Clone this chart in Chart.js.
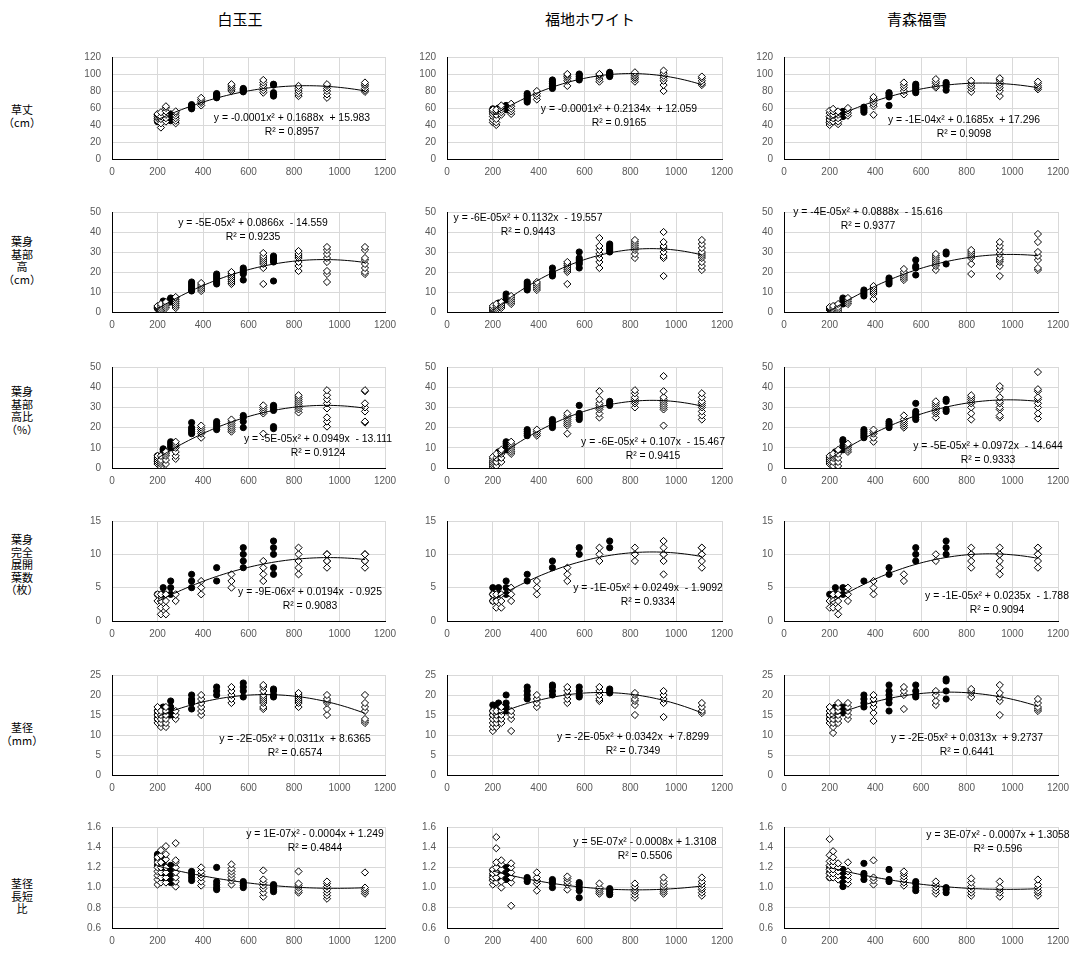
<!DOCTYPE html>
<html>
<head>
<meta charset="utf-8">
<script src="https://cdn.jsdelivr.net/npm/chart.js@4.4.1/dist/chart.umd.min.js"></script>
<style>
  body { margin: 0; background: #fff; width: 1075px; height: 953px; position: relative; overflow: hidden; font-family: "Liberation Sans", Arial, sans-serif; }
  .panel { position: absolute; }
  .title { position: absolute; font-family: "Noto Sans CJK JP"; font-size: 15px; transform: translate(-50%, -50%); white-space: nowrap; color: #000; }
  .ylab { position: absolute; font-family: "Noto Sans CJK JP"; font-size: 11px; line-height: 12.5px; text-align: center; width: 44px; transform: translate(-50%, -50%); color: #000; }
  .eq { position: absolute; font-size: 10.4px; line-height: 13.5px; text-align: center; white-space: nowrap; transform: translate(-50%, 0); color: #000; }
</style>
</head>
<body>
<script>
const cultivars = ['白玉王', '福地ホワイト', '青森福雪'];
const traitLabels = [
  ['草丈', '（cm）'],
  ['葉身', '基部', '高', '（cm）'],
  ['葉身', '基部', '高比', '（%）'],
  ['葉身', '完全', '展開', '葉数', '（枚）'],
  ['茎径', '（mm）'],
  ['茎径', '長短', '比']
];
const yMin = [0, 0, 0, 0, 0, 0.6];
const yMax = [120, 50, 50, 15, 25, 1.6];
const yStep = [20, 10, 10, 5, 5, 0.2];

// x positions of the sampling groups
const xFilled = [200, 225, 258, 350, 460, 577, 710];
const xOpen = [200, 215, 237, 280, 392, 525, 665, 820, 945, 1112];

// 草丈
const heightFilled = [
  [[44,46,48],[46,48,50,52],[45,47,49,51,53],[59,60,61,62,63,64],[72,73,75,76,77],[79,80,81,82,83],[74,76,78,87,88]],
  [[55,57,59],[54,56,58,60],[58,60,62,63],[67,69,71,73,75,77],[83,85,87,89,91,93],[93,95,97,99,100],[97,98,99,100,101,102]],
  [[42,45,48],[45,48,52,55],[50,52,54,56],[55,57,59,61],[63,73,75,77,78],[78,80,82,84,86,88],[81,85,88,90]]
];
const heightOpen = [
  [[45,48,50,52,53],[37,42,47,50,55],[44,48,52,56,60,62],[42,45,48,51,54,56],[63,66,68,70,72],[80,82,84,86,88],[78,81,84,87,90,93],[74,77,80,83,86],[72,76,80,83,86,88],[79,81,83,86,88,90]],
  [[43,46,50,53,56,58],[40,43,47,52,56,58],[52,55,58,61,63],[53,56,59,62,65],[70,74,77,80],[86,92,95,97,99,100],[91,94,97,99,100],[91,94,96,98,100,102],[80,87,92,95,98,101,104],[87,89,92,95,97]],
  [[40,43,46,50,54,57],[44,48,52,56,59],[41,44,48,52,56],[51,54,57,60],[52,62,65,68,71,73],[76,80,84,87,90],[84,86,89,91,94],[79,83,86,89,92],[74,80,84,87,90,93,95],[82,84,86,89,91]]
];

// 葉身基部高
const baseFilled = [
  [[1.8,2.2],[3,4,5,5.5],[5,5.5,6,6.5,7],[10.5,11,12,13,14,15],[14,15,16,17,18,19],[16,19,20,21,22],[15.5,25,26,27,28]],
  [[1,2],[3,4,4.5],[6,7,8,9],[11,12,13,14,15],[18,19,20,22],[22,24,25,26,27,30],[30,31,32,33,34]],
  [[1.5,2],[2,3],[4,5,6,7],[8,9,10,11],[14,15,16,17],[18.5,22,23,26],[24,29,30]]
];
const baseOpen = [
  [[1.5,2,2.5,3],[0.5,1,2,3,4],[2,3,4,5],[2,3,4,5,6,7,7.5],[10.5,11.5,12.5,13.5,14.5],[14,15,16,17,18,19,20],[14,22,24,25,26,27,28,29.5],[20.5,23,25,27,28,29,30.5],[15,19,20.5,25,27,29,31,32.5],[19,20,22,24,26,27,31,32.5]],
  [[0.5,1,1.5,2,3],[1,2,3,4],[2,3,4,5],[4,5,6,7,8],[11,12,13,14,15],[14,20,21,22,23,24,25],[22,25,27,29,31,33,37],[27,29,31,32,33,34,35,36],[18,27,28,30,32,33,35,40],[21,23,25,27,28,29,30,32,34,36]],
  [[1,1.5,2,2.5],[0.5,1,2,3],[0.5,1.5,2.5,4],[4,5,6,7],[6.5,9,10,11,12,13],[16,17,18,19,20,21.5],[21,23,24,25,26,27,28,29],[19,24,27,28,29,30,31],[18,23,25,26,27,29,31,33,35],[21,22,26,28,30,35,39]]
];

// 葉身基部高比
const ratioFilled = [
  [[3,4,5,6],[7,8,9,9.5],[10,11,12,13],[17,18,19,20,22.5],[19,20,21,22,23],[20,23,25,26],[19.5,20.5,28.5,29.5,30.5,31]],
  [[1,3],[5,6,7,8],[9,10,11,12,13],[16,17,18,19],[20,21,22,23,24],[24,25,26,27,31],[31,32,33]],
  [[4,5],[6,7,8],[9,11,13,14],[15,16,17,18,19],[20,21,22,23],[24,25,26,27,28,32],[28,29,33,34]]
];
const ratioOpen = [
  [[2,3,4,5,6],[0.5,2,3,4,6],[2,4,6,7,8],[4.5,6,8,10,11,12,13],[15,17,18,19,20,21],[18,19,20,21,22,23,24],[17,27,28,29,30,31],[27.5,29,30,31,32,33,34,35,36],[20.5,23,25,29.5,32,34,36,38.5],[22.5,23,28,30,32,38,38.5]],
  [[0.5,1.5,2.5,3.5,4.5,5.5],[1,3,5,7],[3,5,7,8,9],[7,8,9,10,11,12,13],[16,17,18,19],[17,21,22,23,24,25,26,27],[25,27,29,30,31,32,34,38],[30,32,33,34,35,37,38.5],[21,29,30,31,32,33,34,35,38,45.5],[24,26,28,30,31,32,33,35,37]],
  [[2,3,4,5,6],[1,3,5,6,7],[1,3,5,7,9],[8,9,10,11,12],[13,15,17,18,19],[20,21,22,23,24,26],[25,27,28,29,30,31,32,33],[24,27,30,32,33,34,35,36],[25,26,29,30,32,33,35,39,40.5],[24.5,27,30,32,34,35,38,39,47.5]]
];

// 葉身完全展開葉数
const leafFilled = [
  [[4],[4,5],[4,5,6],[5,6,7],[6,8],[8,9,10,11],[7,8,10,11,12]],
  [[3,4,5],[4,5],[4,5,6],[6,7],[8,9],[10,11],[11,12]],
  [[4],[4,5],[4,5],[6],[7,8],[9,10,11],[10,11,12]]
];
const leafOpen = [
  [[3,4],[1,2,3,4],[1,2,3,4],[3,4],[4,5,6],[5,6,7],[6,7,8,9],[7,8,9,10,11],[8,9,9,10,10,10],[8,9,9,10,10,10]],
  [[3,4],[2,3,4],[2,3,4],[3,4,5],[4,5,6],[6,7,8],[9,10,11],[9,10,10,11],[7,9,10,10,11,12],[8,9,10,10,11,11]],
  [[2,3],[2,3,4],[1,2,3,4],[3,4,5],[4,5,6],[6,7],[9,10],[8,9,10,10,11],[7,8,9,10,10,11],[8,9,10,10,11,11]]
];

// 茎径
const stemFilled = [
  [[14,15,16],[15,16,17],[15,16,17,18.5],[16.5,18,18.5,19,20],[20,21,22],[19.5,21,22,23],[19.5,20,21,21.5]],
  [[15,16,17.5],[15,16,17,18],[16,17,18,20],[19,20,21,22],[20,21,22,22.5],[19.5,20,21,22],[20.5,21,21.5]],
  [[14,15],[15,16,17],[15.5,16,17],[17,18,19,20],[16,18,19,20,21,22.5],[19.5,20,21,22.5],[19,21,23.5,24]]
];
const stemOpen = [
  [[13,14,15,16,17],[12,13,14,15,16],[12,13,14,15,16,17],[14,15,16],[15,16,17,18,19,20],[18,19,20,21,22],[16.5,17,18,18.5,19,19.5,20,21,22,22.5],[17,18,18.5,19,19.5,20,20.5],[15,16.5,18,18.5,19,20],[13,13.5,14,16,17,18,20]],
  [[11,12,13,14,15,16],[12,13,14,15,16],[13,14,15,16,17],[11,14,15,16],[17,18,19,20],[18,19,20,21,22],[18.5,19,20,21,22],[15,17.5,18.5,19,20,20.5],[14.5,18,19,20,21],[15.5,16,17,18]],
  [[13,14,15,16,17],[10.5,12,13,14,15,16],[13,14,15,16,17,18],[14,15,16,17,18],[13.5,15.5,17,18,19,20],[16.5,20,21,22],[17.5,18.5,20,21],[19.5,20.5,21,21.5],[15,18.5,19.5,20.5,22.5],[16,16.5,17,18,19]]
];

// 茎径長短比
const shapeFilled = [
  [[1.22,1.28,1.32,1.33],[1.1,1.2,1.25,1.3],[1.05,1.1,1.15,1.2,1.22],[1.07,1.1,1.13,1.16],[0.98,1.0,1.03,1.06,1.2],[1.0,1.02,1.04,1.06],[0.96,0.98,1.0,1.02,1.03]],
  [[1.08,1.12,1.17],[1.08,1.12,1.16,1.2],[1.08,1.12,1.15,1.18,1.2],[1.06,1.08,1.1],[1.0,1.04,1.06,1.08],[0.9,0.97,1.0,1.03,1.05],[0.93,0.95,0.97,0.99]],
  [[1.1,1.15,1.2],[1.12,1.16],[1.01,1.05,1.1,1.15,1.18],[1.08,1.12,1.14,1.24],[1.06,1.08,1.18],[0.97,1.0,1.04,1.06],[0.95,0.98,1.0]]
];
const shapeOpen = [
  [[1.03,1.08,1.12,1.16,1.2,1.25,1.3],[1.05,1.1,1.15,1.2,1.25,1.32,1.37],[1.05,1.1,1.15,1.2,1.28,1.33,1.41],[1.01,1.06,1.1,1.15,1.2,1.25,1.27,1.44],[1.02,1.06,1.1,1.13,1.16,1.2],[1.03,1.07,1.1,1.13,1.16,1.19,1.23],[0.91,0.95,0.99,1.02,1.05,1.08,1.17],[0.95,0.97,1.0,1.02,1.04,1.16],[0.89,0.92,0.95,0.98,1.01,1.04,1.06],[0.94,0.96,0.98,1.0,1.15]],
  [[1.03,1.07,1.1,1.14,1.18],[1.05,1.1,1.15,1.2,1.25,1.39,1.5],[1.0,1.06,1.12,1.18,1.23,1.27],[0.82,1.05,1.1,1.15,1.2,1.24],[0.97,1.04,1.07,1.1,1.15],[0.98,1.03,1.06,1.09,1.11],[0.94,0.96,0.98,1.0,1.04],[0.9,0.93,0.96,0.98,1.01,1.04],[0.94,0.96,0.98,1.0,1.03,1.06,1.1],[0.92,0.95,0.98,1.0,1.03,1.06,1.1]],
  [[1.1,1.14,1.18,1.22,1.26,1.32,1.48],[1.1,1.14,1.18,1.22,1.26,1.3,1.36],[1.08,1.12,1.16,1.2,1.24],[1.04,1.08,1.12,1.16,1.25],[1.03,1.07,1.1,1.27],[1.02,1.05,1.08,1.11,1.14,1.16],[0.94,0.97,1.0,1.03,1.06],[0.92,0.95,0.98,1.01,1.05,1.09],[0.91,0.95,0.98,1.0,1.06],[0.92,0.95,0.97,1.0,1.03,1.08]]
];

const filledSets = [heightFilled, baseFilled, ratioFilled, leafFilled, stemFilled, shapeFilled];
const openSets = [heightOpen, baseOpen, ratioOpen, leafOpen, stemOpen, shapeOpen];

// trendline labels as printed
const eqText = [
  ['y = -0.0001x² + 0.1688x  + 15.983', 'y = -0.0001x² + 0.2134x  + 12.059', 'y = -1E-04x² + 0.1685x  + 17.296'],
  ['y = -5E-05x² + 0.0866x  - 14.559', 'y = -6E-05x² + 0.1132x  - 19.557', 'y = -4E-05x² + 0.0888x  - 15.616'],
  ['y = -5E-05x² + 0.0949x  - 13.111', 'y = -6E-05x² + 0.107x  - 15.467', 'y = -5E-05x² + 0.0972x  - 14.644'],
  ['y = -9E-06x² + 0.0194x  - 0.925', 'y = -1E-05x² + 0.0249x  - 1.9092', 'y = -1E-05x² + 0.0235x  - 1.788'],
  ['y = -2E-05x² + 0.0311x  + 8.6365', 'y = -2E-05x² + 0.0342x  + 7.8299', 'y = -2E-05x² + 0.0313x  + 9.2737'],
  ['y = 1E-07x² - 0.0004x + 1.249', 'y = 5E-07x² - 0.0008x + 1.3108', 'y = 3E-07x² - 0.0007x + 1.3058']
];
const r2Text = [
  ['0.8957', '0.9165', '0.9098'],
  ['0.9235', '0.9443', '0.9377'],
  ['0.9124', '0.9415', '0.9333'],
  ['0.9083', '0.9334', '0.9094'],
  ['0.6574', '0.7349', '0.6441'],
  ['0.4844', '0.5506', '0.596']
];

// layout
const plotL = [112, 447, 784];
const plotR = [385, 722, 1058];
const plotT = [48, 203, 358, 512, 666, 818];
const plotB = [159, 312, 468, 621, 775, 928];
const titleX = [240, 590, 917];
const labelY = [115, 260, 410, 564, 733, 896];
const eqX = [[292, 619, 964], [253, 528, 868], [318, 653, 988], [310, 648, 997], [295, 633, 967], [315, 645, 998]];
const eqY = [[118, 109, 120], [223, 218, 212], [439, 442, 446], [592, 588, 596], [739, 737, 738], [834, 842, 835]];

function toPoints(xs, groups) {
  const pts = [];
  groups.forEach((g, i) => g.forEach(y => pts.push({ x: xs[i], y: y })));
  return pts;
}

// quadratic least squares, like the spreadsheet trendline
function polyFit(pts) {
  const S = [0, 0, 0, 0, 0], T = [0, 0, 0];
  pts.forEach(p => {
    const u = p.x / 1000;
    let k = 1;
    for (let i = 0; i < 5; i++) { S[i] += k; if (i < 3) T[i] += k * p.y; k *= u; }
  });
  const M = [[S[0], S[1], S[2], T[0]], [S[1], S[2], S[3], T[1]], [S[2], S[3], S[4], T[2]]];
  for (let c = 0; c < 3; c++) {
    for (let r = c + 1; r < 3; r++) {
      const f = M[r][c] / M[c][c];
      for (let k = c; k < 4; k++) M[r][k] -= f * M[c][k];
    }
  }
  const a = [0, 0, 0];
  for (let r = 2; r >= 0; r--) {
    let s = M[r][3];
    for (let k = r + 1; k < 3; k++) s -= M[r][k] * a[k];
    a[r] = s / M[r][r];
  }
  return x => { const u = x / 1000; return a[0] + a[1] * u + a[2] * u * u; };
}

function trendPoints(pts) {
  const f = polyFit(pts);
  const xs = pts.map(p => p.x);
  const lo = Math.min(...xs), hi = Math.max(...xs);
  const out = [];
  for (let i = 0; i <= 60; i++) {
    const x = lo + (hi - lo) * i / 60;
    out.push({ x: x, y: f(x) });
  }
  return out;
}

function addDiv(cls, left, top, html) {
  const d = document.createElement('div');
  d.className = cls;
  d.style.left = left + 'px';
  d.style.top = top + 'px';
  d.innerHTML = html;
  document.body.appendChild(d);
  return d;
}

cultivars.forEach((name, c) => addDiv('title', titleX[c], 18, name));
traitLabels.forEach((lines, r) => addDiv('ylab', 22, labelY[r], lines.join('<br>')));

const AXW = 34, AXH = 22, PADT = 8, PADR = 22;

for (let r = 0; r < 6; r++) {
  for (let c = 0; c < 3; c++) {
    const filled = toPoints(xFilled, filledSets[r][c]);
    const open = toPoints(xOpen, openSets[r][c]);
    const trend = trendPoints(filled.concat(open));

    const w = plotR[c] - plotL[c] + AXW + PADR;
    const h = plotB[r] - plotT[r] + PADT + AXH;
    const canvas = document.createElement('canvas');
    canvas.className = 'panel';
    canvas.width = w;
    canvas.height = h;
    canvas.style.left = (plotL[c] - AXW) + 'px';
    canvas.style.top = (plotT[r] - PADT) + 'px';
    canvas.style.width = w + 'px';
    canvas.style.height = h + 'px';
    document.body.appendChild(canvas);

    new Chart(canvas.getContext('2d'), {
      type: 'scatter',
      data: {
        datasets: [
          { data: trend, showLine: true, borderColor: '#000', borderWidth: 1, pointRadius: 0, order: 0 },
          { data: open, pointStyle: 'rectRot', pointRadius: 3.6, backgroundColor: '#fff', borderColor: '#000', borderWidth: 1, order: 1 },
          { data: filled, pointStyle: 'circle', pointRadius: 3.1, backgroundColor: '#000', borderColor: '#000', borderWidth: 1, order: 2 }
        ]
      },
      options: {
        responsive: false,
        animation: false,
        events: [],
        layout: { padding: { left: 0, top: PADT, right: PADR, bottom: 0 } },
        plugins: { legend: { display: false }, tooltip: { enabled: false } },
        scales: {
          x: {
            min: 0, max: 1200,
            afterFit: s => { s.height = AXH; },
            border: { color: '#000', width: 1 },
            grid: { color: '#d9d9d9', drawTicks: false },
            ticks: { stepSize: 200, padding: 7, color: '#595959', font: { family: 'Liberation Sans', size: 10 }, maxRotation: 0,
              callback: v => String(v) }
          },
          y: {
            min: yMin[r], max: yMax[r],
            afterFit: s => { s.width = AXW; },
            border: { color: '#000', width: 1 },
            grid: { color: '#d9d9d9', drawTicks: false },
            ticks: {
              stepSize: yStep[r], padding: 11, color: '#595959', font: { family: 'Liberation Sans', size: 10 },
              callback: v => r === 5 ? v.toFixed(1) : String(v)
            }
          }
        }
      }
    });

    addDiv('eq', eqX[r][c], eqY[r][c] - 6.75, eqText[r][c].replace(/ {2}/g, '&nbsp; ') + '<br>R² = ' + r2Text[r][c]);
  }
}
</script>
</body>
</html>
